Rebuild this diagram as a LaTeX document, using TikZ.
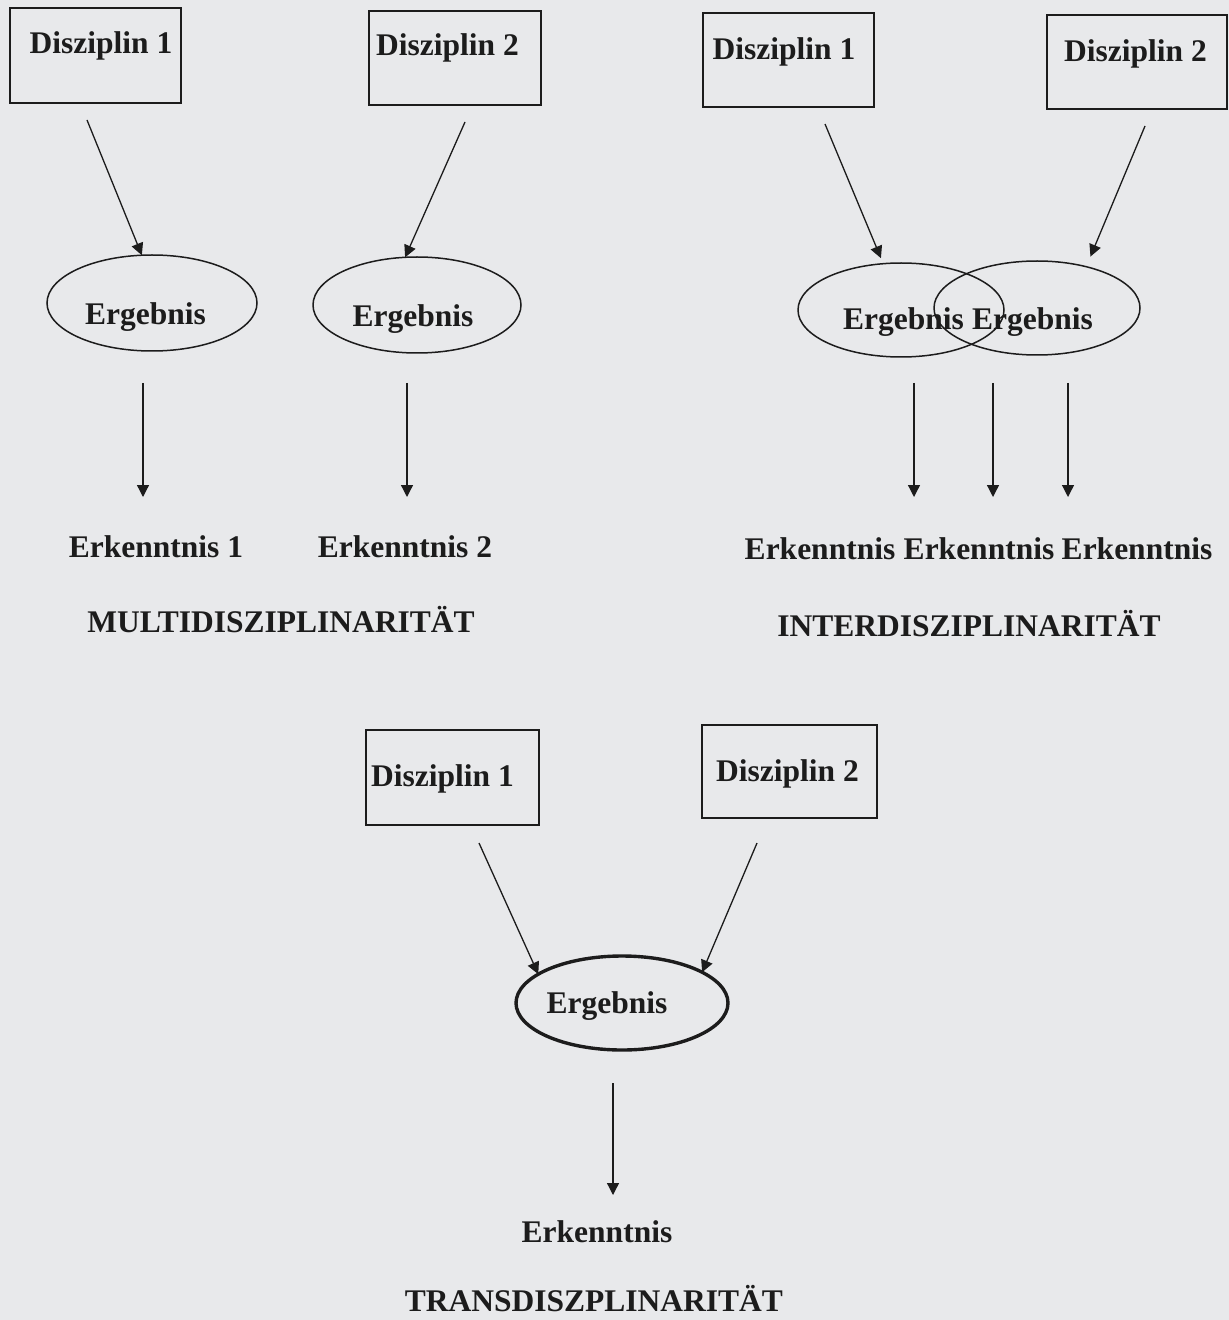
\documentclass[tikz,border=0pt]{standalone}
\usepackage{fontspec}
\setmainfont{Liberation Serif}
\usetikzlibrary{shapes.geometric,arrows.meta}
\definecolor{bg}{RGB}{232,233,235}
\definecolor{ink}{RGB}{28,28,28}
\begin{document}
\begin{tikzpicture}[x=0.5pt,y=-0.5pt,
  lbl/.style={anchor=base, inner sep=0pt, outer sep=0pt, font=\fontsize{15.75}{18}\selectfont\bfseries, text=ink},
  dbox/.style={draw=ink, line width=0.9pt, inner sep=0pt, outer sep=0pt, rectangle},
  res/.style={draw=ink, line width=0.75pt, ellipse, inner sep=0pt, outer sep=0pt},
  resthick/.style={res, line width=1.7pt},
  arr/.style={draw=ink, line width=0.65pt, -{Triangle[length=6pt,width=6pt]}}]
\useasboundingbox (0,0) rectangle (1229,1320);
\fill[bg] (0,0) rectangle (1229,1320);

% ---------- MULTIDISZIPLINARITÄT ----------
\node[dbox, minimum width=85.5pt, minimum height=47.5pt] (b1) at (95.5,55.5) {};
\node[dbox, minimum width=86pt, minimum height=47pt] (b2) at (455,58) {};
\node[lbl] (b1t) at (101,54) {Disziplin 1};
\node[lbl] (b2t) at (447.5,56) {Disziplin 2};

\node[res, minimum width=105pt, minimum height=48pt] (e1) at (152,303) {};
\node[res, minimum width=104pt, minimum height=48pt] (e2) at (417,305) {};
\node[lbl] (e1t) at (145.5,325) {Ergebnis};
\node[lbl] (e2t) at (413,327) {Ergebnis};

\coordinate (s1) at (87,120);
\coordinate (s2) at (465,122);
\draw[arr] (s1) -- (e1.102.6);
\draw[arr] (s2) -- (e2.104.2);

\coordinate (v1a) at (143,383); \coordinate (v1b) at (143,497);
\coordinate (v2a) at (407,383); \coordinate (v2b) at (407,497);
\draw[arr] (v1a) -- (v1b);
\draw[arr] (v2a) -- (v2b);

\node[lbl] (k1) at (156,557) {Erkenntnis 1};
\node[lbl] (k2) at (405,557) {Erkenntnis 2};
\node[lbl] (multi) at (281,632) {MULTIDISZIPLINARITÄT};

% ---------- INTERDISZIPLINARITÄT ----------
\node[dbox, minimum width=85.5pt, minimum height=47pt] (b3) at (788.5,60) {};
\node[dbox, minimum width=90pt, minimum height=47pt] (b4) at (1137,62) {};
\node[lbl] (b3t) at (784,60) {Disziplin 1};
\node[lbl] (b4t) at (1135.5,62) {Disziplin 2};

\node[res, minimum width=103pt, minimum height=47pt] (e3) at (901,310) {};
\node[res, minimum width=103pt, minimum height=47pt] (e4) at (1037,308) {};
\node[lbl] (e3t) at (903.5,330) {Ergebnis};
\node[lbl] (e4t) at (1032.5,330) {Ergebnis};

\coordinate (s3) at (825,124);
\coordinate (s4) at (1145,126);
\draw[arr, shorten >=3pt] (s3) -- (e3.111.5);
\draw[arr, shorten >=5.5pt] (s4) -- (e4.40.6);

\coordinate (v3a) at (914,383); \coordinate (v3b) at (914,497);
\coordinate (v4a) at (993,383); \coordinate (v4b) at (993,497);
\coordinate (v5a) at (1068,383); \coordinate (v5b) at (1068,497);
\draw[arr] (v3a) -- (v3b);
\draw[arr] (v4a) -- (v4b);
\draw[arr] (v5a) -- (v5b);

\node[lbl] (k3) at (820,559) {Erkenntnis};
\node[lbl] (k4) at (979,559) {Erkenntnis};
\node[lbl] (k5) at (1137,559) {Erkenntnis};
\node[lbl] (inter) at (969,636) {INTERDISZIPLINARITÄT};

% ---------- TRANSDISZPLINARITÄT ----------
\node[dbox, minimum width=86.5pt, minimum height=47.5pt] (b5) at (452.5,777.5) {};
\node[dbox, minimum width=87.5pt, minimum height=46.5pt] (b6) at (789.5,771.5) {};
\node[lbl] (b5t) at (442.5,786) {Disziplin 1};
\node[lbl] (b6t) at (787.5,781) {Disziplin 2};

\node[resthick, minimum width=106pt, minimum height=47pt] (e5) at (622,1003) {};
\node[lbl] (e5t) at (607,1013) {Ergebnis};

\coordinate (s5) at (479,843);
\coordinate (s6) at (757,843);
\draw[arr] (s5) -- (e5.161.5);
\draw[arr] (s6) -- (e5.21.5);

\coordinate (v6a) at (613,1083); \coordinate (v6b) at (613,1195);
\draw[arr] (v6a) -- (v6b);

\node[lbl] (k6) at (597,1242) {Erkenntnis};
\node[lbl] (trans) at (594,1311) {TRANSDISZPLINARITÄT};
\end{tikzpicture}
\end{document}
